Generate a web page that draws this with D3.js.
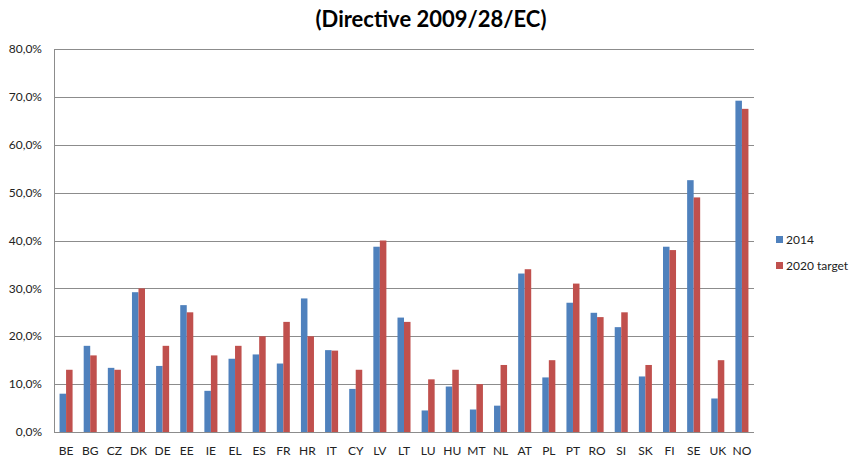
<!DOCTYPE html>
<html>
<head>
<meta charset="utf-8">
<script src="https://cdn.jsdelivr.net/npm/d3@7"></script>
<style>
  body { margin: 0; background: #fff; }
  text { font-family: Lato, "Open Sans", sans-serif; fill: #000; }
</style>
</head>
<body>
<div id="chart"></div>
<script>
// Data
const countries = ["BE","BG","CZ","DK","DE","EE","IE","EL","ES","FR","HR","IT","CY","LV","LT",
                   "LU","HU","MT","NL","AT","PL","PT","RO","SI","SK","FI","SE","UK","NO"];
const share2014 = [8.0,18.0,13.4,29.2,13.8,26.5,8.6,15.3,16.2,14.3,27.9,17.1,9.0,38.7,23.9,
                   4.5,9.5,4.7,5.5,33.1,11.4,27.0,24.9,21.9,11.6,38.7,52.6,7.0,69.2];
const target2020 = [13,16,13,30,18,25,16,18,20,23,20,17,13,40,23,
                    11,13,10,14,34,15,31,24,25,14,38,49,15,67.5];
const seriesNames = ["2014", "2020 target"];
const yTicks = [0,10,20,30,40,50,60,70,80];

const width = 852, height = 461;
const margin = { top: 49, right: 98, bottom: 29, left: 54 };
const innerW = width - margin.left - margin.right;
const innerH = height - margin.top - margin.bottom;
const colors = ["#4f81bd", "#c0504d"];

const svg = d3.select("#chart").append("svg")
    .attr("width", width)
    .attr("height", height);

// Title
svg.append("text")
    .attr("x", 431)
    .attr("y", 27)
    .attr("text-anchor", "middle")
    .style("font-size", "22px")
    .style("font-weight", "bold")
    .text("(Directive 2009/28/EC)");

const g = svg.append("g").attr("transform", `translate(${margin.left},${margin.top})`);

const x = d3.scaleBand().domain(countries).range([0, innerW]).paddingInner(0.46).paddingOuter(0.23);
const xInner = d3.scaleBand().domain(seriesNames).range([0, x.bandwidth()]);
const y = d3.scaleLinear().domain([0, 80]).range([innerH, 0]);

// Gridlines
g.selectAll("line.grid")
    .data(yTicks)
    .enter()
    .append("line")
    .attr("class", "grid")
    .attr("x1", 0)
    .attr("x2", innerW)
    .attr("y1", d => Math.round(y(d)) + 0.5)
    .attr("y2", d => Math.round(y(d)) + 0.5)
    .attr("stroke", "#8c8c8c")
    .attr("stroke-width", 1);

// Vertical axis line
g.append("line")
    .attr("x1", 0.5).attr("x2", 0.5)
    .attr("y1", y(80)).attr("y2", innerH)
    .attr("stroke", "#8c8c8c");

// Y tick labels
g.selectAll("text.ytick")
    .data(yTicks)
    .enter()
    .append("text")
    .attr("class", "ytick")
    .attr("x", -12)
    .attr("y", d => y(d))
    .attr("dy", "0.35em")
    .attr("text-anchor", "end")
    .style("font-size", "12px")
    .style("fill", "#222")
    .text(d => d.toFixed(1).replace(".", ",") + "%");

// Bars
const groups = g.selectAll("g.country")
    .data(countries.map((c, i) => ({ c, vals: [share2014[i], target2020[i]] })))
    .enter()
    .append("g")
    .attr("class", "country")
    .attr("transform", d => `translate(${x(d.c)},0)`);

groups.selectAll("rect")
    .data(d => d.vals.map((v, k) => ({ v, k })))
    .enter()
    .append("rect")
    .attr("x", d => xInner(seriesNames[d.k]))
    .attr("width", xInner.bandwidth())
    .attr("y", d => y(d.v))
    .attr("height", d => innerH - y(d.v))
    .attr("fill", d => colors[d.k]);

// X labels
g.selectAll("text.xlab")
    .data(countries)
    .enter()
    .append("text")
    .attr("class", "xlab")
    .attr("x", d => x(d) + x.bandwidth() / 2)
    .attr("y", innerH + 23)
    .attr("text-anchor", "middle")
    .style("font-size", "12px")
    .style("fill", "#222")
    .text(d => d);

// Legend
const legend = svg.append("g").attr("transform", "translate(776,236)");
seriesNames.forEach((s, i) => {
    legend.append("rect")
        .attr("x", 0).attr("y", i * 26)
        .attr("width", 7).attr("height", 7)
        .attr("fill", colors[i]);
    legend.append("text")
        .attr("x", 10).attr("y", i * 26 + 4)
        .attr("dy", "0.35em")
        .style("font-size", "12px")
        .style("fill", "#222")
        .text(s);
});
</script>
</body>
</html>
